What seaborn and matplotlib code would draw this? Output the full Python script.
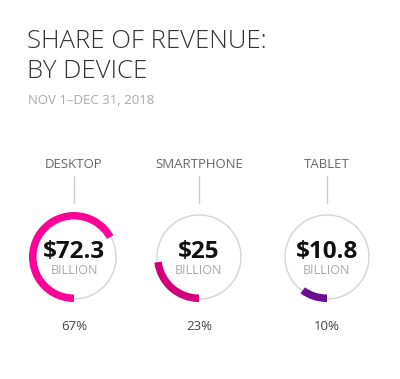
import matplotlib
matplotlib.use("Agg")
import matplotlib.pyplot as plt
import seaborn as sns
from matplotlib.patches import Circle

devices = ["DESKTOP", "SMARTPHONE", "TABLET"]
revenue = [72.3, 25, 10.8]
revenue_labels = ["$72.3", "$25", "$10.8"]
share_pct = [67, 23, 10]
colors = ["#ff0099", "#d1007a", "#6c0c93"]

sns.set_theme(style="white")
plt.rcParams['font.family'] = ['Open Sans', 'DejaVu Sans']

W, H = 400, 379
fig = plt.figure(figsize=(W / 100, H / 100), dpi=100)
fig.patch.set_facecolor("white")

bg = fig.add_axes([0, 0, 1, 1])
bg.set_xlim(0, W)
bg.set_ylim(H, 0)
bg.axis("off")

bg.text(27, 41, "SHARE OF REVENUE:", fontsize=18.5, color="#333333",
        fontweight="light", va="center", ha="left")
bg.text(27, 71, "BY DEVICE", fontsize=18.5, color="#333333",
        fontweight="light", va="center", ha="left")
bg.text(28, 101, "NOV 1\u2013DEC 31, 2018", fontsize=9.5, color="#aaaaaa",
        va="center", ha="left")

centers_x = [74, 199, 327]
cy = 257
half = 50
R_out, R_w, R_gray = 45, 7.5, 42

for i, (dev, lab, pct, col, cx) in enumerate(zip(devices, revenue_labels, share_pct, colors, centers_x)):
    bg.text(cx, 164, dev, fontsize=9.5, color="#666666", ha="center", va="center")
    bg.plot([cx, cx], [176, 203], color="#cccccc", lw=1)
    bg.text(cx, 327, f"{pct}%", fontsize=9.5, color="#444444", ha="center", va="center")

    ax = fig.add_axes([(cx - half) / W, 1 - (cy + half) / H, 2 * half / W, 2 * half / H])
    ax.set_xlim(-half, half)
    ax.set_ylim(-half, half)
    ax.set_aspect("equal")
    ax.axis("off")
    ax.add_patch(Circle((0, 0), R_gray, fill=False, edgecolor="#d4d4d4", lw=1))
    ax.pie([pct, 100 - pct], radius=R_out, startangle=-90, counterclock=False,
           colors=[col, (1, 1, 1, 0)],
           wedgeprops=dict(width=R_w, linewidth=0))
    ax.set_xlim(-half, half)
    ax.set_ylim(-half, half)
    ax.text(0, 5, lab, fontsize=17.5, fontweight="bold", color="#111111",
            ha="center", va="center")
    ax.text(0, -14, "BILLION", fontsize=9, color="#aaaaaa", ha="center", va="center")

fig.savefig("out.png", dpi=100, facecolor="white")
